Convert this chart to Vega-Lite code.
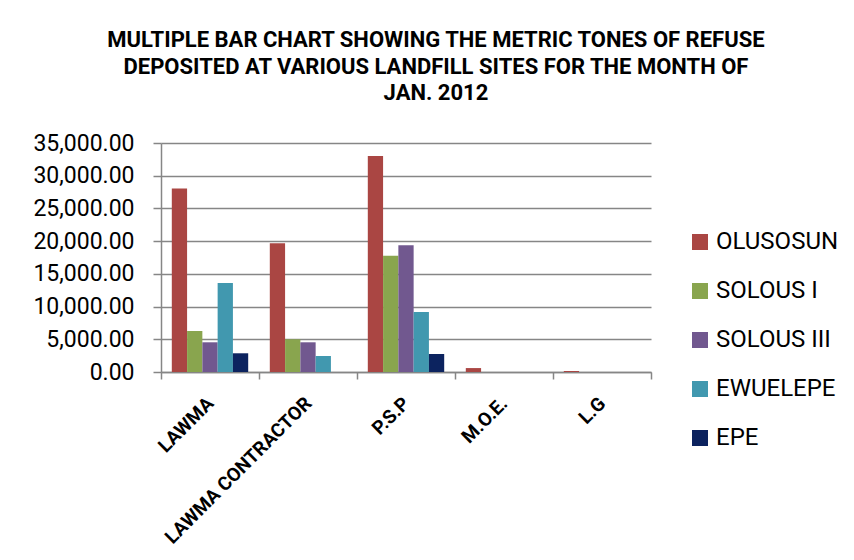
{
  "$schema": "https://vega.github.io/schema/vega-lite/v6.json",
  "autosize": {"type": "none"},
  "padding": {"left": 161, "top": 143, "right": 203, "bottom": 188},
  "width": 490,
  "height": 229,
  "background": "white",
  "title": {
    "text": ["MULTIPLE BAR CHART SHOWING THE METRIC TONES OF REFUSE", "DEPOSITED AT VARIOUS LANDFILL SITES FOR THE MONTH OF", "JAN. 2012"],
    "font": "Roboto",
    "fontWeight": "bold",
    "fontSize": 22,
    "lineHeight": 26.5,
    "color": "black",
    "anchor": "middle",
    "frame": "bounds",
    "offset": 27
  },
  "data": {
    "values": [
      {"site": "LAWMA", "landfill": "OLUSOSUN", "tonnes": 28050},
      {"site": "LAWMA", "landfill": "SOLOUS I", "tonnes": 6270},
      {"site": "LAWMA", "landfill": "SOLOUS III", "tonnes": 4540},
      {"site": "LAWMA", "landfill": "EWUELEPE", "tonnes": 13600},
      {"site": "LAWMA", "landfill": "EPE", "tonnes": 2860},
      {"site": "LAWMA CONTRACTOR", "landfill": "OLUSOSUN", "tonnes": 19670},
      {"site": "LAWMA CONTRACTOR", "landfill": "SOLOUS I", "tonnes": 5000},
      {"site": "LAWMA CONTRACTOR", "landfill": "SOLOUS III", "tonnes": 4540},
      {"site": "LAWMA CONTRACTOR", "landfill": "EWUELEPE", "tonnes": 2450},
      {"site": "LAWMA CONTRACTOR", "landfill": "EPE", "tonnes": 0},
      {"site": "P.S.P", "landfill": "OLUSOSUN", "tonnes": 33000},
      {"site": "P.S.P", "landfill": "SOLOUS I", "tonnes": 17780},
      {"site": "P.S.P", "landfill": "SOLOUS III", "tonnes": 19360},
      {"site": "P.S.P", "landfill": "EWUELEPE", "tonnes": 9170},
      {"site": "P.S.P", "landfill": "EPE", "tonnes": 2750},
      {"site": "M.O.E.", "landfill": "OLUSOSUN", "tonnes": 600},
      {"site": "M.O.E.", "landfill": "SOLOUS I", "tonnes": 0},
      {"site": "M.O.E.", "landfill": "SOLOUS III", "tonnes": 0},
      {"site": "M.O.E.", "landfill": "EWUELEPE", "tonnes": 0},
      {"site": "M.O.E.", "landfill": "EPE", "tonnes": 0},
      {"site": "L.G", "landfill": "OLUSOSUN", "tonnes": 150},
      {"site": "L.G", "landfill": "SOLOUS I", "tonnes": 0},
      {"site": "L.G", "landfill": "SOLOUS III", "tonnes": 0},
      {"site": "L.G", "landfill": "EWUELEPE", "tonnes": 0},
      {"site": "L.G", "landfill": "EPE", "tonnes": 0}
    ]
  },
  "mark": {"type": "bar"},
  "encoding": {
    "x": {
      "field": "site",
      "type": "nominal",
      "sort": ["LAWMA", "LAWMA CONTRACTOR", "P.S.P", "M.O.E.", "L.G"],
      "scale": {"paddingInner": 0, "paddingOuter": 0},
      "title": null,
      "axis": {
        "labelAngle": -45,
        "labelAlign": "right",
        "labelBaseline": "middle",
        "labelFont": "Roboto",
        "labelFontWeight": "bold",
        "labelFontSize": 19,
        "labelColor": "black",
        "labelPadding": 21,
        "labelDx": -2,
        "labelLimit": 400,
        "tickBand": "extent",
        "tickSize": 7,
        "tickColor": "#868686",
        "tickWidth": 1.5,
        "domainColor": "#868686",
        "domainWidth": 1.5,
        "grid": false
      }
    },
    "xOffset": {
      "field": "landfill",
      "type": "nominal",
      "sort": ["OLUSOSUN", "SOLOUS I", "SOLOUS III", "EWUELEPE", "EPE"],
      "scale": {"paddingInner": 0, "paddingOuter": 0.707}
    },
    "y": {
      "field": "tonnes",
      "type": "quantitative",
      "scale": {"domain": [0, 35000], "nice": false},
      "title": null,
      "axis": {
        "values": [0, 5000, 10000, 15000, 20000, 25000, 30000, 35000],
        "format": ",.2f",
        "labelFont": "Roboto",
        "labelFontSize": 23,
        "labelColor": "black",
        "labelPadding": 19,
        "tickSize": 8,
        "tickColor": "#868686",
        "tickWidth": 1.5,
        "domainColor": "#868686",
        "domainWidth": 1.5,
        "gridColor": "#868686",
        "gridWidth": 1.5
      }
    },
    "color": {
      "field": "landfill",
      "type": "nominal",
      "sort": ["OLUSOSUN", "SOLOUS I", "SOLOUS III", "EWUELEPE", "EPE"],
      "scale": {
        "domain": ["OLUSOSUN", "SOLOUS I", "SOLOUS III", "EWUELEPE", "EPE"],
        "range": ["#AA4643", "#89A54E", "#71588F", "#4198AF", "#0C235F"]
      },
      "legend": {
        "title": null,
        "orient": "none",
        "legendX": 527,
        "legendY": 87,
        "padding": 0,
        "symbolType": "square",
        "symbolSize": 256,
        "symbolStrokeWidth": 0,
        "labelFont": "Roboto",
        "labelFontSize": 24,
        "labelColor": "black",
        "labelOffset": 4,
        "rowPadding": 25
      }
    }
  },
  "config": {
    "view": {"stroke": null}
  }
}
